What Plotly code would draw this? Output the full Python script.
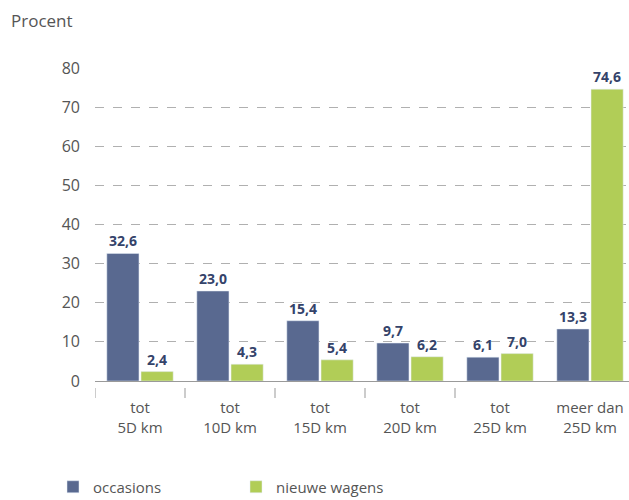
import plotly.graph_objects as go

categories = ["tot<br>5D km", "tot<br>10D km", "tot<br>15D km", "tot<br>20D km", "tot<br>25D km", "meer dan<br>25D km"]
occasions = [32.6, 23.0, 15.4, 9.7, 6.1, 13.3]
nieuwe_wagens = [2.4, 4.3, 5.4, 6.2, 7.0, 74.6]
y_ticks = [0, 10, 20, 30, 40, 50, 60, 70, 80]

BLUE = "#596990"
GREEN = "#b1cd57"
LABEL = "#34436a"
TEXT = "#555555"
FONT = "Open Sans"

W, H = 629, 500
left, top, bottom = 95, 68, 119
plot_h = H - top - bottom

fig = go.Figure()
fig.add_bar(
    x=categories, y=occasions, name="occasions", marker_color=BLUE,
    texttemplate="%{y:.1f}", textposition="outside",
    textfont=dict(family=FONT, size=14, color=LABEL, weight="bold"),
    cliponaxis=False,
)
fig.add_bar(
    x=categories, y=nieuwe_wagens, name="nieuwe wagens", marker_color=GREEN,
    texttemplate="%{y:.1f}", textposition="outside",
    textfont=dict(family=FONT, size=14, color=LABEL, weight="bold"),
    cliponaxis=False,
)

# short separator marks between the category groups, below the axis
for i in range(len(categories) - 1):
    fig.add_shape(
        type="line", xref="x", yref="paper",
        x0=i - 0.5, x1=i - 0.5,
        y0=-(388 - (H - bottom)) / plot_h, y1=-(398 - (H - bottom)) / plot_h,
        line=dict(color="#999999", width=1),
    )

fig.add_annotation(
    text="Procent", xref="paper", yref="paper",
    x=-(left - 9) / (W - left), y=1 + (top - 21) / plot_h,
    xanchor="left", yanchor="middle", showarrow=False,
    font=dict(family=FONT, size=17, color=TEXT),
)

fig.update_layout(
    width=W, height=H,
    margin=dict(l=left, r=0, t=top, b=bottom, autoexpand=False),
    paper_bgcolor="white", plot_bgcolor="white",
    separators=", ",
    barmode="group", bargap=0.24, bargroupgap=0.06,
    showlegend=True,
    legend=dict(
        orientation="h",
        xref="container", x=53 / W, xanchor="left",
        yref="container", y=(H - 487) / H, yanchor="middle",
        font=dict(family=FONT, size=15, color=TEXT),
        entrywidth=138, traceorder="normal",
    ),
    font=dict(family=FONT, color=TEXT),
)
fig.update_xaxes(
    range=[-0.5, 5.5 - 6 / 90],
    showline=True, linecolor="#9a9a9a", linewidth=1,
    ticks="", showgrid=False, ticklabelstandoff=13,
    tickfont=dict(family=FONT, size=15, color=TEXT),
)
fig.update_yaxes(
    range=[0, 80], tickvals=y_ticks,
    showgrid=True, gridcolor="#b0b0b0", griddash="dash", gridwidth=1,
    zeroline=False, showline=False, ticks="",
    ticklabelstandoff=14,
    tickfont=dict(family=FONT, size=16, color=TEXT),
)

fig.write_html("out.html")
